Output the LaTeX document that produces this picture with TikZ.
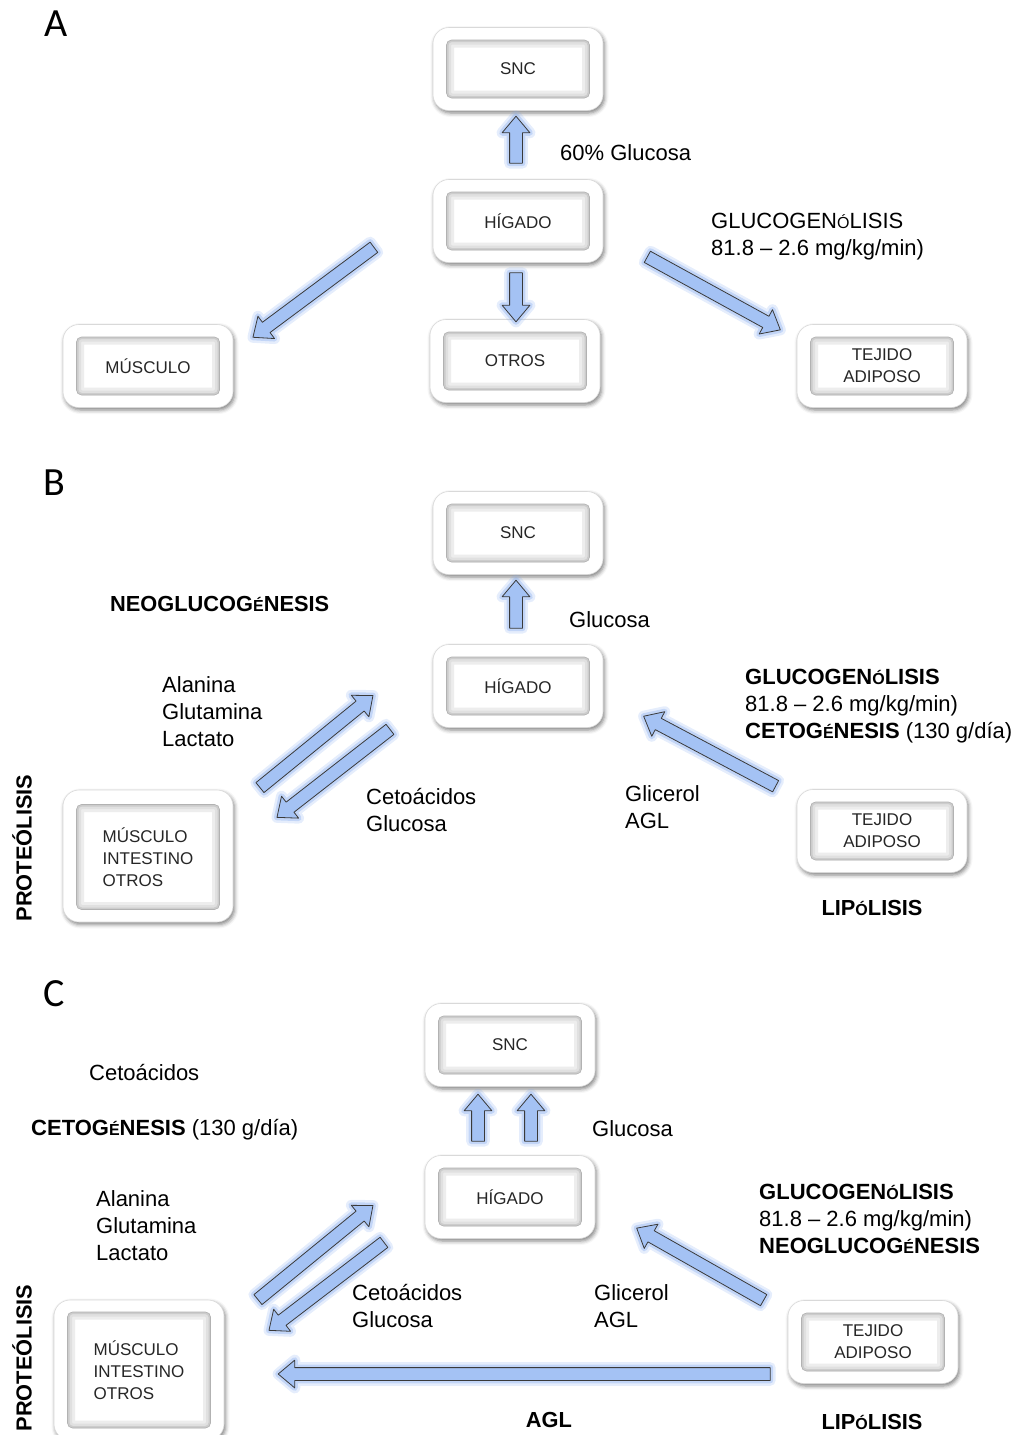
\documentclass[tikz,border=0pt]{standalone}
\usepackage{fontspec}
\setmainfont{Liberation Sans}
\newfontfamily\letrafont{Carlito}
\usepackage{tikz}
\usetikzlibrary{calc, shapes.arrows, shadows.blur}
\definecolor{flechafill}{HTML}{A4C2F4}
\definecolor{flechaline}{HTML}{3A3A3A}
\definecolor{brillo}{HTML}{7FA7EE}
\newcommand{\chica}[1]{{\fontsize{16}{16}\selectfont #1}}
% block arrow from #1 to #2, named #3
\newcommand{\flecha}[3]{\path let \p1=($(#2)-(#1)$) in
  node (#3) [flecha, minimum height={veclen(\x1,\y1)}, rotate={atan2(\y1,\x1)}] at ($(#1)!0.5!(#2)$) {};}
\tikzset{Metabolismo/.style = {% styles of the three panels
     marco/.style = {rounded corners=16pt, minimum width=170pt, minimum height=83pt,
                     fill=white, draw=gray!30, line width=0.6pt,
                     blur shadow={shadow xshift=1.5pt, shadow yshift=-2.5pt,
                                  shadow blur radius=4pt, shadow opacity=50}},
 marcoalto/.style = {marco, minimum height=132pt},
      caja/.style = {rounded corners=5pt, minimum width=143pt, minimum height=58pt,
                     fill=white, draw=gray!60, line width=0.6pt, align=center,
                     font=\fontsize{17}{22}\selectfont, text=black!85,
                     path picture={
                       \draw[gray!14, line width=15pt] (path picture bounding box.south west) rectangle (path picture bounding box.north east);
                       \draw[gray!24, line width=9pt] (path picture bounding box.south west) rectangle (path picture bounding box.north east);
                       \draw[gray!40, line width=4pt] (path picture bounding box.south west) rectangle (path picture bounding box.north east);}},
  cajaalta/.style = {caja, minimum height=105pt, align=left},
    flecha/.style = {single arrow, single arrow head extend=7.5pt, single arrow tip angle=80,
                     inner xsep=0pt, inner ysep=6pt, minimum width=0pt,
                     fill=flechafill, draw=flechaline, line width=0.8pt, line join=round,
                     preaction={draw=brillo, line width=11pt, opacity=0.2},
                     preaction={draw=brillo, line width=6pt, opacity=0.35}},
     texto/.style = {anchor=west, align=left, inner sep=0pt, font=\fontsize{22}{27}\selectfont},
   negrita/.style = {texto, font=\fontsize{21.8}{27}\selectfont\bfseries},
     letra/.style = {inner sep=0pt, font=\letrafont\fontsize{40}{40}\selectfont}}
        }

\begin{document}
\begin{tikzpicture}[Metabolismo, x=1pt, y=-1pt]
\useasboundingbox (0,0) rectangle (1021,1435);

% panel A
\node (letA) [letra] at (56,24) {A};
\node (sncA)  [marco] at (518,69) {};
\node (sncAt) [caja]  at (518,69) {SNC};
\node (higA)  [marco] at (518,221) {};
\node (higAt) [caja]  at (518,221) {HÍGADO};
\node (otrA)  [marco] at (515,361) {};
\node (otrAt) [caja]  at (515,361) {OTROS};
\node (musA)  [marco] at (148,366) {};
\node (musAt) [caja]  at (148,366) {MÚSCULO};
\node (tejA)  [marco] at (882,366) {};
\node (tejAt) [caja]  at (882,366) {TEJIDO\\ADIPOSO};
\node (gluA) [texto] at (560,153) {60\% Glucosa};
\node (glgA) [texto] at (711,237) {GLUCOGEN\chica{Ó}LISIS\\81.8 – 2.6 mg/kg/min)};

\coordinate (fA1a) at (516,167);  \coordinate (fA1b) at (516,120);
\coordinate (fA2a) at (516,269);  \coordinate (fA2b) at (516,318);
\coordinate (fA3a) at (377,245);  \coordinate (fA3b) at (256,335);
\coordinate (fA4a) at (644,255);  \coordinate (fA4b) at (777,328);
\flecha{fA1a}{fA1b}{fA1}
\flecha{fA2a}{fA2b}{fA2}
\flecha{fA3a}{fA3b}{fA3}
\flecha{fA4a}{fA4b}{fA4}

% panel B
\node (letB) [letra] at (54,483) {B};
\node (sncB)  [marco] at (518,533) {};
\node (sncBt) [caja]  at (518,533) {SNC};
\node (higB)  [marco] at (518,686) {};
\node (higBt) [caja]  at (518,686) {HÍGADO};
\node (musB)  [marcoalto] at (148,856) {};
\node (musBt) [cajaalta]  at (148,857) {MÚSCULO\\INTESTINO\\OTROS};
\node (tejB)  [marco] at (882,831) {};
\node (tejBt) [caja]  at (882,831) {TEJIDO\\ADIPOSO};
\node (neoB) [negrita] at (110,604) {NEOGLUCOG\chica{É}NESIS};
\node (gluB) [texto] at (569,620) {Glucosa};
\node (alaB) [texto] at (162,712) {Alanina\\Glutamina\\Lactato};
\node (glgB) [texto] at (745,706) {\textbf{GLUCOGEN\chica{Ó}LISIS}\\81.8 – 2.6 mg/kg/min)\\\textbf{CETOG\chica{É}NESIS} (130 g/día)};
\node (cetB) [texto] at (366,810) {Cetoácidos\\Glucosa};
\node (gliB) [texto] at (625,807) {Glicerol\\AGL};
\node (lipB) [negrita, anchor=center] at (872,908) {LIP\chica{Ó}LISIS};
\node (proB) [negrita, anchor=center, rotate=90] at (22,848) {PROTEÓLISIS};

\coordinate (fB1a) at (516,632);  \coordinate (fB1b) at (516,584);
\coordinate (fB2a) at (257,790);  \coordinate (fB2b) at (370,698);
\coordinate (fB3a) at (393,727);  \coordinate (fB3b) at (280,815);
\coordinate (fB4a) at (779,788);  \coordinate (fB4b) at (647,718);
\flecha{fB1a}{fB1b}{fB1}
\flecha{fB2a}{fB2b}{fB2}
\flecha{fB3a}{fB3b}{fB3}
\flecha{fB4a}{fB4b}{fB4}

% panel C
\node (letC) [letra] at (54,994) {C};
\node (sncC)  [marco] at (510,1045) {};
\node (sncCt) [caja]  at (510,1045) {SNC};
\node (higC)  [marco] at (510,1197) {};
\node (higCt) [caja]  at (510,1197) {HÍGADO};
\node (musC)  [marcoalto, minimum height=140pt] at (139,1370) {};
\node (musCt) [cajaalta, minimum height=116pt]  at (139,1370) {MÚSCULO\\INTESTINO\\OTROS};
\node (tejC)  [marco] at (873,1342) {};
\node (tejCt) [caja]  at (873,1342) {TEJIDO\\ADIPOSO};
\node (cetC) [texto] at (89,1072) {Cetoácidos};
\node (cgnC) [texto] at (31,1130) {\textbf{CETOG\chica{É}NESIS} (130 g/día)};
\node (gluC) [texto] at (592,1129) {Glucosa};
\node (alaC) [texto] at (96,1226) {Alanina\\Glutamina\\Lactato};
\node (glgC) [texto] at (759,1219) {\textbf{GLUCOGEN\chica{Ó}LISIS}\\81.8 – 2.6 mg/kg/min)\\\textbf{NEOGLUCOG\chica{É}NESIS}};
\node (caC) [texto] at (352,1306) {Cetoácidos\\Glucosa};
\node (giC) [texto] at (594,1306) {Glicerol\\AGL};
\node (aglC) [negrita, anchor=center] at (549,1420) {AGL};
\node (lipC) [negrita, anchor=center] at (872,1422) {LIP\chica{Ó}LISIS};
\node (proC) [negrita, anchor=center, rotate=90] at (22,1358) {PROTEÓLISIS};

\coordinate (fC1a) at (478,1145);  \coordinate (fC1b) at (478,1098);
\coordinate (fC2a) at (531,1145);  \coordinate (fC2b) at (531,1098);
\coordinate (fC3a) at (255,1302);  \coordinate (fC3b) at (370,1208);
\coordinate (fC4a) at (387,1240);  \coordinate (fC4b) at (272,1328);
\coordinate (fC5a) at (767,1302);  \coordinate (fC5b) at (640,1230);
\coordinate (fC6a) at (774,1374);  \coordinate (fC6b) at (282,1374);
\flecha{fC1a}{fC1b}{fC1}
\flecha{fC2a}{fC2b}{fC2}
\flecha{fC3a}{fC3b}{fC3}
\flecha{fC4a}{fC4b}{fC4}
\flecha{fC5a}{fC5b}{fC5}
\flecha{fC6a}{fC6b}{fC6}

\end{tikzpicture}
\end{document}
